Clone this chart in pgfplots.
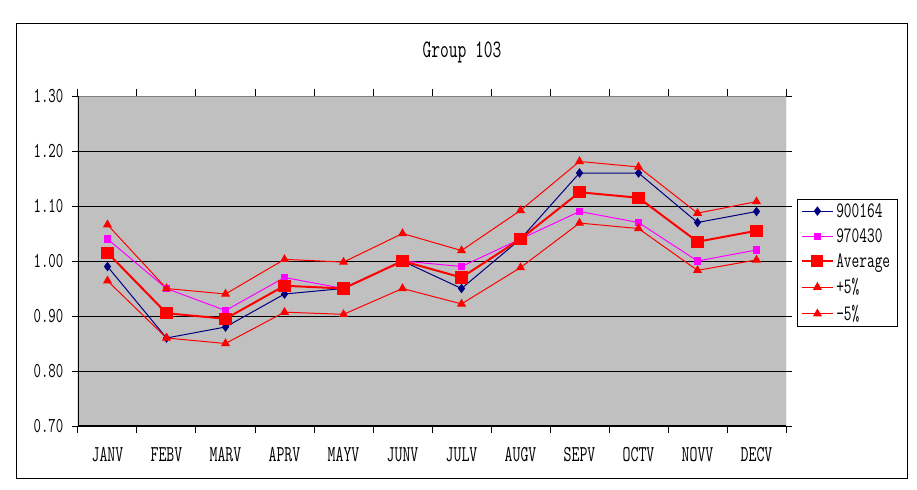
\documentclass[border=0pt]{standalone}
\usepackage{fontspec}
\usepackage{pgfplots}
\usepackage{pgfplotstable}
\pgfplotsset{compat=1.18}
\newfontfamily\chartfont[FakeStretch=0.68]{Latin Modern Mono}
\definecolor{plotbg}{HTML}{C0C0C0}
\definecolor{navyc}{HTML}{000080}
\definecolor{magc}{HTML}{FF00FF}
\definecolor{redc}{HTML}{FF0000}
\definecolor{edgec}{HTML}{808080}

\pgfplotstableread{
m s1 s2 avg up dn
1 0.99 1.04 1.015 1.066 0.964
2 0.86 0.95 0.905 0.950 0.860
3 0.88 0.91 0.895 0.940 0.850
4 0.94 0.97 0.955 1.003 0.907
5 0.95 0.95 0.950 0.998 0.903
6 1.00 1.00 1.000 1.050 0.950
7 0.95 0.99 0.970 1.019 0.922
8 1.04 1.04 1.040 1.092 0.988
9 1.16 1.09 1.125 1.181 1.069
10 1.16 1.07 1.115 1.171 1.059
11 1.07 1.00 1.035 1.087 0.983
12 1.09 1.02 1.055 1.108 1.002
}\data

\begin{document}
\begin{tikzpicture}
\fill[white] (-58.5pt,-47.25pt) rectangle (629.25pt,319.5pt);
\begin{axis}[
  at={(0,0)}, anchor=south west,
  scale only axis, width=531pt, height=247.5pt,
  xmin=0.5, xmax=12.5, ymin=0.7, ymax=1.3,
  xtick={1,...,12},
  xticklabels={JANV,FEBV,MARV,APRV,MAYV,JUNV,JULV,AUGV,SEPV,OCTV,NOVV,DECV},
  minor xtick={0.5,1.5,...,12.5},
  ytick={0.7,0.8,...,1.3},
  yticklabels={0.70,0.80,0.90,1.00,1.10,1.20,1.30},
  tick align=outside,
  major tick length=4.5pt, minor tick length=5.25pt,
  major x tick style={draw=none},
  minor x tick style={black, line width=0.75pt},
  major y tick style={black, line width=0.75pt},
  ymajorgrids,
  major grid style={black, line width=0.75pt},
  axis line style={draw=none},
  axis background/.style={fill=plotbg},
  yticklabel style={font=\chartfont\fontsize{15.9pt}{17pt}\selectfont, xshift=-3pt},
  xticklabel style={font=\chartfont\fontsize{17pt}{19pt}\selectfont, yshift=-8pt},
  legend style={at={(1.0155,0.6879)}, anchor=north west, draw=black, fill=white,
    font=\chartfont\fontsize{16.5pt}{18pt}\selectfont, row sep=3pt, inner xsep=3pt, inner ysep=1pt},
  legend cell align=left,
  legend image code/.code={\draw[mark repeat=2,mark phase=2] plot coordinates {(0cm,0cm) (0.4cm,0cm) (0.8cm,0cm)};},
]
\addplot[navyc, line width=0.75pt, mark=diamond*, mark size=3pt, mark options={solid, fill=navyc}] table[x=m,y=s1] {\data};
\addlegendentry{900164}
\addplot[magc, line width=0.75pt, mark=square*, mark size=2.4pt, mark options={solid, fill=magc}] table[x=m,y=s2] {\data};
\addlegendentry{970430}
\addplot[redc, line width=1.5pt, mark=square*, mark size=3.8pt, mark options={solid, fill=redc}] table[x=m,y=avg] {\data};
\addlegendentry{Average}
\addplot[redc, line width=0.75pt, mark=triangle*, mark size=3.2pt, mark options={solid, fill=redc}] table[x=m,y=up] {\data};
\addlegendentry{+5\%}
\addplot[redc, line width=0.75pt, mark=triangle*, mark size=3.2pt, mark options={solid, fill=redc}] table[x=m,y=dn] {\data};
\addlegendentry{-5\%}
\draw[edgec, line width=1.2pt] (rel axis cs:0,1) -- (rel axis cs:1,1);
\draw[edgec, line width=0.75pt] (rel axis cs:1,1) -- (rel axis cs:1,0);
\draw[black, line width=1.2pt] (rel axis cs:0,1) -- (rel axis cs:0,0) -- (rel axis cs:1,0);
\end{axis}
\node[font=\chartfont\fontsize{18.8pt}{20pt}\selectfont] at (288pt,280pt) {Group 103};
\draw[line width=0.75pt] (-45.75pt,-39pt) rectangle (621.75pt,301.5pt);
\pgfresetboundingbox
\path[use as bounding box] (-58.5pt,-47.25pt) rectangle (629.25pt,319.5pt);
\end{tikzpicture}
\end{document}
